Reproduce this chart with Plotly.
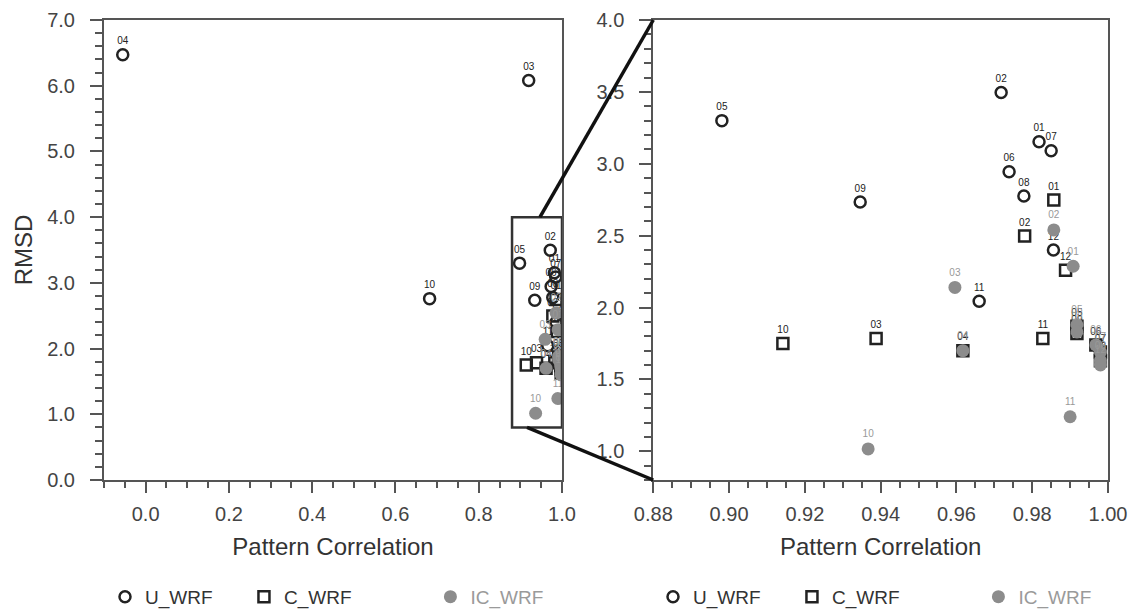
import plotly.graph_objects as go

# ---------------- data ----------------
u_labels = ["01", "02", "03", "04", "05", "06", "07", "08", "09", "10", "11", "12"]
u_corr = [0.9818, 0.9718, 0.920, -0.055, 0.8981, 0.9739, 0.985, 0.9778, 0.9346, 0.682, 0.966, 0.9856]
u_rmsd = [3.153, 3.496, 6.08, 6.47, 3.30, 2.944, 3.09, 2.776, 2.734, 2.76, 2.043, 2.40]

c_labels = ["01", "02", "03", "04", "05", "06", "07", "08", "09", "10", "11", "12"]
c_corr = [0.9857, 0.978, 0.9388, 0.9617, 0.9918, 0.9968, 0.998, 0.998, 0.9918, 0.9142, 0.9828, 0.9888]
c_rmsd = [2.748, 2.497, 1.785, 1.70, 1.87, 1.74, 1.69, 1.63, 1.82, 1.75, 1.785, 2.26]

ic_labels = ["01", "02", "03", "04", "05", "06", "07", "08", "09", "10", "11", "12"]
ic_corr = [0.9908, 0.9857, 0.9596, 0.9617, 0.9918, 0.9968, 0.998, 0.998, 0.9918, 0.9367, 0.990, 0.998]
ic_rmsd = [2.287, 2.54, 2.14, 1.70, 1.88, 1.74, 1.69, 1.63, 1.83, 1.016, 1.24, 1.60]

# ---------------- layout constants ----------------
W, H = 1138, 610
FONT = "Liberation Sans, Arial, Helvetica, sans-serif"
DARK = "#222222"
GRAY = "#8c8c8c"
AX = "#555555"

dom1 = [104 / W, 562 / W]
dom2 = [653.3 / W, 1108 / W]
xr1, yr1 = [-0.1, 1.0], [0.0, 7.0]
xr2, yr2 = [0.88, 1.0], [0.8, 4.0]

fig = go.Figure()

def add_panel(xa, ya, legend, show_legend=True):
    fig.add_trace(go.Scatter(
        x=u_corr, y=u_rmsd, text=u_labels, mode="markers+text",
        textposition="top center", textfont=dict(size=10, color=DARK, family=FONT),
        marker=dict(symbol="circle-open", size=11, color=DARK, line=dict(width=2.5, color=DARK)),
        name="U_WRF" + "&nbsp;" * 5, xaxis=xa, yaxis=ya, legend=legend, showlegend=show_legend,
    ))
    fig.add_trace(go.Scatter(
        x=c_corr, y=c_rmsd, text=c_labels, mode="markers+text",
        textposition="top center", textfont=dict(size=10, color=DARK, family=FONT),
        marker=dict(symbol="square-open", size=11, color=DARK, line=dict(width=2.5, color=DARK)),
        name="C_WRF" + "&nbsp;" * 14, xaxis=xa, yaxis=ya, legend=legend, showlegend=show_legend,
    ))
    fig.add_trace(go.Scatter(
        x=ic_corr, y=ic_rmsd, text=ic_labels, mode="markers+text",
        textposition="top center", textfont=dict(size=10, color="#999999", family=FONT),
        marker=dict(symbol="circle", size=13, color=GRAY, line=dict(width=0)),
        name='<span style="color:#9a9a9a">IC_WRF</span>', xaxis=xa, yaxis=ya, legend=legend,
        showlegend=show_legend,
    ))

add_panel("x", "y", "legend")
add_panel("x2", "y2", "legend2")

axis_common = dict(
    showline=True, linewidth=2, linecolor=AX, mirror=True,
    ticks="outside", tickwidth=2, tickcolor=AX,
    tickfont=dict(size=20, color="#444444", family=FONT),
    showgrid=False, zeroline=False,
)
TITLE_FONT = dict(size=24, color="#333333", family=FONT)

fig.update_layout(
    xaxis=dict(domain=dom1, range=xr1, tick0=0, dtick=0.2, tickformat=".1f", ticklen=11,
               minor=dict(dtick=0.05, ticklen=6, tickwidth=1.5, tickcolor=AX, ticks="outside"),
               title=dict(text="Pattern Correlation", font=TITLE_FONT, standoff=14),
               ticklabelstandoff=4, anchor="y", **axis_common),
    yaxis=dict(domain=[0, 1], range=yr1, tick0=0, dtick=1, tickformat=".1f", ticklen=12,
               minor=dict(dtick=0.2, ticklen=7, tickwidth=1.5, tickcolor=AX, ticks="outside"),
               title=dict(text="RMSD", font=TITLE_FONT, standoff=8),
               ticklabelstandoff=11, anchor="x", **axis_common),
    xaxis2=dict(domain=dom2, range=xr2, tick0=0.88, dtick=0.02, tickformat=".2f", ticklen=11,
                minor=dict(dtick=0.005, ticklen=6, tickwidth=1.5, tickcolor=AX, ticks="outside"),
                title=dict(text="Pattern Correlation", font=TITLE_FONT, standoff=14),
                ticklabelstandoff=4, anchor="y2", **axis_common),
    yaxis2=dict(domain=[0, 1], range=yr2, tick0=0, dtick=0.5, tickformat=".1f", ticklen=12,
                minor=dict(dtick=0.1, ticklen=7, tickwidth=1.5, tickcolor=AX, ticks="outside"),
                ticklabelstandoff=11, anchor="x2", **axis_common),
    width=W, height=H,
    margin=dict(l=0, r=0, t=20, b=130, autoexpand=False),
    paper_bgcolor="white", plot_bgcolor="white",
    font=dict(family=FONT, color="#333333"),
    legend=dict(orientation="h", x=105 / W, xanchor="left", y=-0.254, yanchor="middle",
                font=dict(size=19, color="#333333", family=FONT), bgcolor="rgba(0,0,0,0)",
                itemclick=False),
    legend2=dict(orientation="h", x=653 / W, xanchor="left", y=-0.254, yanchor="middle",
                 font=dict(size=19, color="#333333", family=FONT), bgcolor="rgba(0,0,0,0)",
                 itemclick=False),
)

# zoom box in left panel
fig.add_shape(type="rect", xref="x", yref="y", x0=xr2[0], x1=xr2[1], y0=yr2[0], y1=yr2[1],
              line=dict(color="#333333", width=2.5))

def to_paper(x, y, dom, xr, yr):
    px = dom[0] + (x - xr[0]) / (xr[1] - xr[0]) * (dom[1] - dom[0])
    py = (y - yr[0]) / (yr[1] - yr[0])
    return px, py

# connector lines from zoom box to right panel corners
a0 = to_paper(0.947, yr2[1], dom1, xr1, yr1)
a1 = to_paper(xr2[0], yr2[1], dom2, xr2, yr2)
b0 = to_paper(0.916, yr2[0], dom1, xr1, yr1)
b1 = to_paper(xr2[0], yr2[0], dom2, xr2, yr2)
for p0, p1 in [(a0, a1), (b0, b1)]:
    fig.add_shape(type="line", xref="paper", yref="paper", x0=p0[0], y0=p0[1], x1=p1[0], y1=p1[1],
                  line=dict(color="#111111", width=3.5))

fig.write_html("out.html")
